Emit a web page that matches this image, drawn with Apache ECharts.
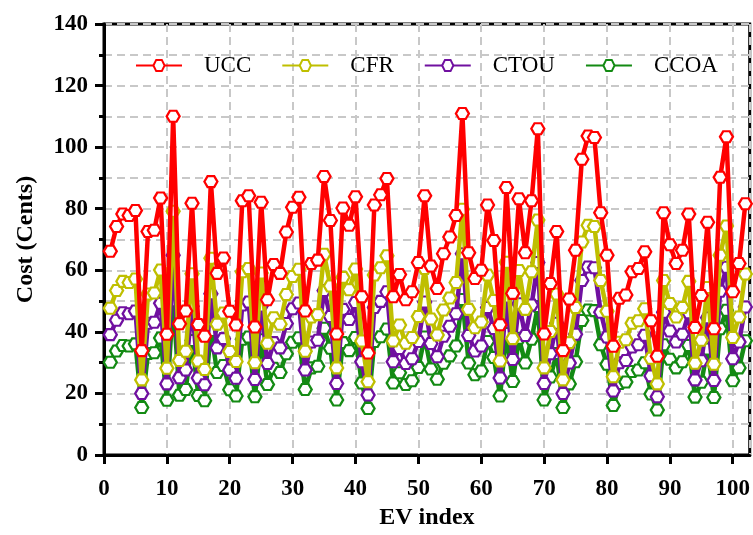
<!DOCTYPE html>
<html>
<head>
<meta charset="utf-8">
<script src="https://cdn.jsdelivr.net/npm/echarts@6/dist/echarts.min.js"></script>
<style>html,body{margin:0;padding:0;background:#fff;}#c{width:753px;height:535px;}</style>
</head>
<body>
<div id="c"></div>
<script>
const evIndex = Array.from({length: 102}, (_, k) => k + 1);
const seriesNames = ['UCC', 'CFR', 'CTOU', 'CCOA'];
const xTicks = [0, 10, 20, 30, 40, 50, 60, 70, 80, 90, 100];
const yTicks = [0, 20, 40, 60, 80, 100, 120, 140];

const UCC = [66.2,74.2,78.3,77.8,79.4,33.9,72.6,73.0,83.5,39.2,110.0,42.6,46.8,81.8,42.4,38.6,88.8,59.0,64.0,46.7,
42.2,82.6,84.2,41.6,82.1,50.4,61.9,59.0,72.4,80.5,83.7,46.8,62.2,63.3,90.5,76.2,39.3,80.2,74.6,83.9,
51.4,33.1,81.2,84.5,89.8,51.4,58.6,50.4,53.0,62.5,84.2,61.4,54.1,65.4,70.8,77.8,110.9,65.7,57.3,60.0,
81.2,69.7,42.3,86.9,52.5,83.2,65.7,82.6,106.0,39.3,55.7,72.6,33.9,50.7,66.5,96.1,103.6,103.1,78.7,64.9,
35.3,50.9,52.0,59.5,60.6,66.0,43.6,32.1,78.7,68.3,62.2,66.5,78.3,41.4,51.8,75.6,41.0,90.2,103.4,53.0,
62.2,81.6];
const CFR = [47.7,53.4,56.4,56.0,57.2,24.4,52.3,52.6,60.1,28.2,79.2,30.7,33.7,58.9,30.5,27.8,63.9,42.5,46.1,33.6,
30.4,59.5,60.6,30.0,59.1,36.3,44.6,42.5,52.1,58.0,60.3,33.7,44.8,45.6,65.2,54.9,28.3,57.7,53.7,60.4,
37.0,23.8,58.5,60.8,64.7,37.0,42.2,36.3,38.2,45.0,60.6,44.2,39.0,47.1,51.0,56.0,79.8,47.3,41.3,43.2,
58.5,50.2,30.5,62.6,37.8,59.9,47.3,59.5,76.3,28.3,40.1,52.3,24.4,36.5,47.9,69.2,74.6,74.2,56.7,46.7,
25.4,36.6,37.4,42.8,43.6,47.5,31.4,23.1,56.7,49.2,44.8,47.9,56.4,29.8,37.3,54.4,29.5,64.9,74.4,38.2,
44.8,58.8];
const CTOU = [39.1,43.8,46.2,45.9,46.8,20.0,42.8,43.1,49.3,23.1,64.9,25.1,27.6,48.3,25.0,22.8,52.4,34.8,37.8,27.6,
24.9,48.7,49.7,24.5,48.4,29.7,36.5,34.8,42.7,47.5,49.4,27.6,36.7,37.3,53.4,45.0,23.2,47.3,44.0,49.5,
30.3,19.5,47.9,49.9,53.0,30.3,34.6,29.7,31.3,36.9,49.7,36.2,31.9,38.6,41.8,45.9,65.4,38.8,33.8,35.4,
47.9,41.1,25.0,51.3,31.0,49.1,38.8,48.7,62.5,23.2,32.9,42.8,20.0,29.9,39.2,56.7,61.1,60.8,46.4,38.3,
20.8,30.0,30.7,35.1,35.8,38.9,25.7,18.9,46.4,40.3,36.7,39.2,46.2,24.4,30.6,44.6,24.2,53.2,61.0,31.3,
36.7,48.1];
const CCOA = [30.1,33.8,35.6,35.4,36.1,15.4,33.0,33.2,38.0,17.8,50.1,19.4,21.3,37.2,19.3,17.6,40.4,26.8,29.1,21.2,
19.2,37.6,38.3,18.9,37.4,22.9,28.2,26.8,32.9,36.6,38.1,21.3,28.3,28.8,41.2,34.7,17.9,36.5,33.9,38.2,
23.4,15.1,36.9,38.4,40.9,23.4,26.7,22.9,24.1,28.4,38.3,27.9,24.6,29.8,32.2,35.4,50.5,29.9,26.1,27.3,
36.9,31.7,19.2,39.5,23.9,37.9,29.9,37.6,48.2,17.9,25.3,33.0,15.4,23.1,30.3,43.7,47.1,46.9,35.8,29.5,
16.1,23.2,23.7,27.1,27.6,30.0,19.8,14.6,35.8,31.1,28.3,30.3,35.6,18.8,23.6,34.4,18.7,41.0,47.0,24.1,
28.3,37.1];

const colors = ['#ff0000', '#bfbf00', '#7010a0', '#138a13'];
const values = [UCC, CFR, CTOU, CCOA];
const hex = 'path://M0,5 L3,0 L9,0 L12,5 L9,10 L3,10 Z';
const FONT = '"Liberation Serif", "Times New Roman", serif';
const dash = {color: '#c8c8c8', width: 2, type: [8, 5]};

const series = seriesNames.map((name, s) => ({
  name: name,
  type: 'line',
  z: 5 - s,
  data: evIndex.map((x, k) => [x, values[s][k]]),
  symbol: hex,
  symbolSize: [13, 11],
  showAllSymbol: true,
  lineStyle: {color: colors[s], width: 4.5},
  itemStyle: {color: '#ffffff', borderColor: colors[s], borderWidth: 2.2},
  emphasis: {disabled: true}
}));

const chart = echarts.init(document.getElementById('c'));
chart.setOption({
  animation: false,
  backgroundColor: '#ffffff',
  grid: {left: 104, right: 2, top: 24, bottom: 77, show: true, borderColor: '#000', borderWidth: 3, backgroundColor: 'transparent'},
  legend: {
    data: seriesNames,
    left: 130, top: 49,
    itemWidth: 46, itemHeight: 14, itemGap: 30,
    textStyle: {fontFamily: FONT, fontSize: 23, color: '#000', padding: [0, 0, 0, 17]}
  },
  xAxis: {
    type: 'value', min: 0, max: 102.7, interval: 10,
    name: 'EV index', nameLocation: 'middle', nameGap: 51,
    nameTextStyle: {fontFamily: FONT, fontSize: 24, fontWeight: 'bold', color: '#000'},
    axisLine: {show: true, lineStyle: {color: '#000', width: 3}},
    axisTick: {show: true, length: 9, lineStyle: {color: '#000', width: 3}},
    axisLabel: {showMaxLabel: false, margin: 23, fontFamily: FONT, fontSize: 23, fontWeight: 'bold', color: '#000',
      formatter: v => (xTicks.indexOf(v) >= 0 ? String(v) : '')},
    splitLine: {show: true, lineStyle: dash}
  },
  yAxis: {
    type: 'value', min: 0, max: 140, interval: 20,
    name: 'Cost (Cents)', nameLocation: 'middle', nameGap: 66,
    nameTextStyle: {fontFamily: FONT, fontSize: 24, fontWeight: 'bold', color: '#000'},
    axisLine: {show: true, lineStyle: {color: '#000', width: 3}},
    axisTick: {show: true, length: 9, lineStyle: {color: '#000', width: 3}},
    minorTick: {show: true, splitNumber: 2, length: 5, lineStyle: {color: '#000', width: 3}},
    axisLabel: {margin: 16, fontFamily: FONT, fontSize: 23, fontWeight: 'bold', color: '#000',
      formatter: v => (yTicks.indexOf(v) >= 0 ? String(v) : '')},
    splitLine: {show: true, lineStyle: dash},
    minorSplitLine: {show: true, lineStyle: dash}
  },
  series: series
});
</script>
</body>
</html>
